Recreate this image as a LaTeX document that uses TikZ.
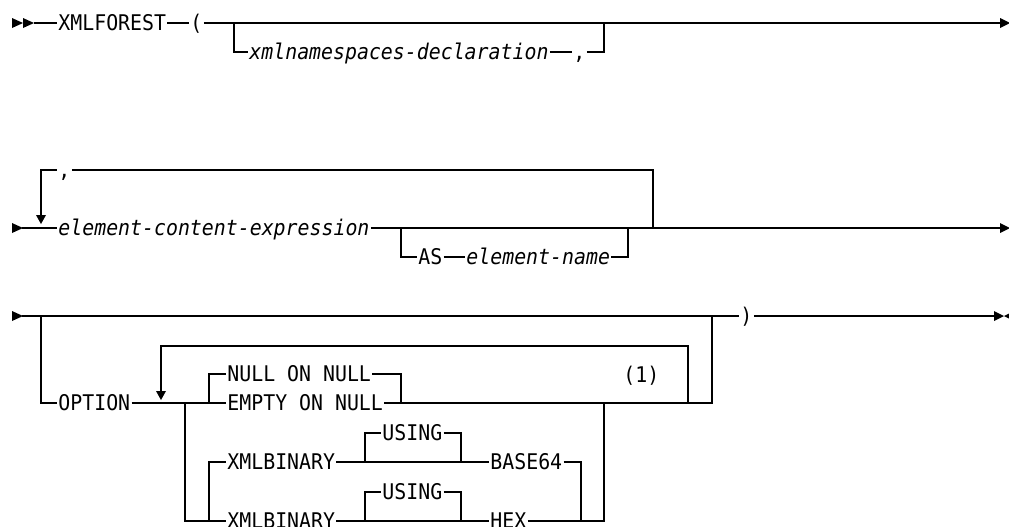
\documentclass[tikz,border=0pt]{standalone}
\usepackage{fontspec}
\newfontfamily\railfont{DejaVu Sans Mono}[FakeStretch=0.92]
\tikzset{
    kw/.style={anchor=west, inner xsep=0.6pt, inner ysep=0pt, text height=11.8pt, text depth=0pt}, % 关键字
    var/.style={kw, font=\railfont\fontsize{16.2}{18}\selectfont\itshape}, % 变量名(斜体)
    tip/.style={fill=black} % 轨道端点的三角
}

\begin{document}
\begin{tikzpicture}[x=0.75pt, y=-0.75pt, line width=0.9pt, font=\railfont\fontsize{16.2}{18}\selectfont]
    \useasboundingbox (0,0) rectangle (1009,526);

    % 起止三角
    \foreach \y in {23,228,316} {\fill[tip] (12,\y-5) -- (23,\y) -- (12,\y+5) -- cycle;}
    \fill[tip] (23,18) -- (34,23) -- (23,28) -- cycle;
    \foreach \y in {23,228} {\fill[tip] (1000,\y-5) -- (1010,\y) -- (1000,\y+5) -- cycle;}
    \fill[tip] (994,311) -- (1004,316) -- (994,321) -- cycle;
    \fill[tip] (1014,311) -- (1004,316) -- (1014,321) -- cycle;
    % 重复箭头
    \fill[tip] (36,215) -- (46,215) -- (41,224) -- cycle;
    \fill[tip] (156,391) -- (166,391) -- (161,400) -- cycle;

    % 第一行
    \coordinate (r1in) at (34,23);
    \coordinate (r1out) at (1000,23);
    \node[kw] (xmlforest) at (57,23) {XMLFOREST};
    \node[kw] (lparen) at (189,23) {(};
    \node[var] (nsdecl) at (248,52) {xmlnamespaces-declaration};
    \node[kw] (nscomma) at (572,52) {,};
    \draw (r1in) -- (xmlforest.west);
    \draw (xmlforest.east) -- (lparen.west);
    \draw (lparen.east) -- (r1out);
    \draw (234,23) |- (nsdecl.west);
    \draw (nsdecl.east) -- (nscomma.west);
    \draw (nscomma.east) -| (604,23);

    % 第二行
    \coordinate (r2in) at (22,228);
    \coordinate (r2out) at (1000,228);
    \node[var] (elemexpr) at (57,228) {element-content-expression};
    \node[kw] (loopcomma) at (57,170) {,};
    \node[kw] (as) at (417,257) {AS};
    \node[var] (elemname) at (465,257) {element-name};
    \draw (r2in) -- (elemexpr.west);
    \draw (elemexpr.east) -- (r2out);
    \draw (41,216) |- (loopcomma.west);
    \draw (loopcomma.east) -| (653,228);
    \draw (401,228) |- (as.west);
    \draw (as.east) -- (elemname.west);
    \draw (elemname.east) -| (628,228);

    % 第三行
    \coordinate (r3in) at (22,316);
    \coordinate (r3out) at (994,316);
    \node[kw] (rparen) at (739,316) {)};
    \node[kw] (option) at (57,403) {OPTION};
    \node[kw] (nullnull) at (226,374) {NULL ON NULL};
    \node[kw] (emptynull) at (226,403) {EMPTY ON NULL};
    \node[kw] (note) at (622,375) {(1)};
    \draw (r3in) -- (rparen.west);
    \draw (rparen.east) -- (r3out);
    \draw (41,316) |- (option.west);
    \draw (option.east) -- (emptynull.west);
    \draw (emptynull.east) -| (712,316);
    \draw (209,403) |- (nullnull.west);
    \draw (nullnull.east) -| (401,403);
    \draw (161,392) |- (688,346) -- (688,403);

    \foreach \r/\y/\enc in {1/462/BASE64, 2/521/HEX} {
        \node[kw] (xmlbin\r) at (226,\y) {XMLBINARY};
        \node[kw] (using\r) at (381,\y-29) {USING};
        \node[kw] (enc\r) at (489,\y) {\enc};
        \draw (xmlbin\r.east) -- (enc\r.west);
        \draw (365,\y) |- (using\r.west);
        \draw (using\r.east) -| (461,\y);
    }
    \draw (185,403) |- (xmlbin2.west);
    \draw (209,521) |- (xmlbin1.west);
    \draw (enc1.east) -| (581,521);
    \draw (enc2.east) -| (604,403);
\end{tikzpicture}
\end{document}
